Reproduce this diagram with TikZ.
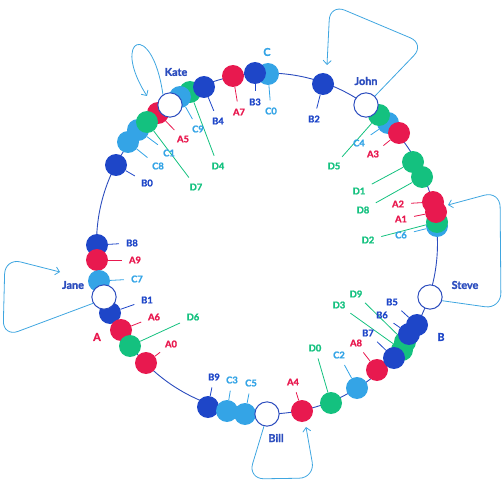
\documentclass[tikz,border=0pt]{standalone}
\usepackage{fontspec}
\setmainfont{Lato}[FakeBold=1.6]
\usetikzlibrary{arrows.meta}

\definecolor{hashred}{HTML}{E8194F}
\definecolor{hashblue}{HTML}{1E46C8}
\definecolor{hashsky}{HTML}{34A4E6}
\definecolor{hashgreen}{HTML}{14C17F}
\definecolor{ringblue}{HTML}{2C4DBE}
\definecolor{loopblue}{HTML}{3FA6E0}

\pgfdeclarelayer{bg}
\pgfsetlayers{bg,main}

\tikzset{
  vnode/.style={circle, inner sep=0pt, minimum size=0.77cm},
  avn/.style={vnode, fill=hashred},
  bvn/.style={vnode, fill=hashblue},
  cvn/.style={vnode, fill=hashsky},
  dvn/.style={vnode, fill=hashgreen},
  server/.style={circle, draw=ringblue, fill=white, line width=1pt, inner sep=0pt, minimum size=0.85cm},
  tag/.style={inner sep=1pt, font=\fontsize{9.3}{11}\selectfont\bfseries},
  srvname/.style={inner sep=1pt, font=\fontsize{10.8}{12}\selectfont\bfseries},
  ring/.style={draw=ringblue, line width=0.9pt},
  tick/.style={line width=0.8pt, shorten >=6pt},
  loopy/.style={draw=loopblue, line width=0.8pt, rounded corners=16pt, -{Straight Barb[length=4pt,width=8pt]}},
}

\begin{document}
\begin{tikzpicture}[x=0.035cm, y=-0.035cm]
  \useasboundingbox (0,0) rectangle (504,483);

  % left side, around Jane
  \node[bvn] (b8) at (97,245) {};
  \node[avn] (a9) at (97,260) {};
  \node[cvn] (c7) at (99,281) {};
  \node[bvn] (b1) at (110,313) {};
  \node[avn] (a6) at (121,330) {};
  \node[avn] (a0) at (146,363) {};
  \node[dvn] (d6) at (130,346) {};
  \node[server] (jane) at (104,297) {};

  % top left, around Kate
  \node[bvn] (b0) at (116,165) {};
  \node[cvn] (c8) at (128,142) {};
  \node[cvn] (c1) at (138,130) {};
  \node[avn] (a5) at (158,113) {};
  \node[dvn] (d7) at (147,122) {};
  \node[dvn] (d4) at (190,92) {};
  \node[cvn] (c9) at (180,97) {};
  \node[server] (kate) at (170,105) {};
  \node[bvn] (b4) at (204,87) {};
  \node[avn] (a7) at (233,76) {};
  \node[cvn] (c0) at (268,74) {};
  \node[bvn] (b3) at (255,73) {};

  % top right, around John
  \node[bvn] (b2) at (323,84) {};
  \node[cvn] (c4) at (388,123) {};
  \node[avn] (a3) at (399,133) {};
  \node[dvn] (d5) at (379,115) {};
  \node[server] (john) at (366,105) {};
  \node[dvn] (d1) at (413,162) {};
  \node[dvn] (d8) at (422,177) {};

  % right side, around Steve
  \node[cvn] (c6) at (437,226) {};
  \node[dvn] (d2) at (437,222) {};
  \node[avn] (a1) at (436,212) {};
  \node[avn] (a2) at (433,202) {};
  \node[server] (steve) at (430,297) {};

  % bottom right
  \node[cvn] (c2) at (357,388) {};
  \node[avn] (a8) at (377,370) {};
  \node[dvn] (d9) at (405,342) {};
  \node[dvn] (d3) at (402,350) {};
  \node[bvn] (b6) at (409,334) {};
  \node[bvn] (b5) at (417,325) {};
  \node[bvn] (b7) at (394,358) {};

  % bottom, around Bill
  \node[dvn] (d0) at (331,403) {};
  \node[avn] (a4) at (302,411) {};
  \node[bvn] (b9) at (208,407) {};
  \node[cvn] (c3) at (227,411) {};
  \node[cvn] (c5) at (245,414) {};
  \node[server] (bill) at (267,414) {};

  % server names
  \node[srvname, text=ringblue] (kate-l) at (176,72) {Kate};
  \node[srvname, text=ringblue] (john-l) at (366,81) {John};
  \node[srvname, text=ringblue] (steve-l) at (465,285) {Steve};
  \node[srvname, text=ringblue] (bill-l) at (276,438) {Bill};
  \node[srvname, text=ringblue] (jane-l) at (73,285) {Jane};
  \node[srvname, text=hashred] (grpa) at (97,337) {A};
  \node[srvname, text=hashblue] (grpb) at (441,337) {B};
  \node[srvname, text=hashsky] (grpc) at (267,52) {C};

  % labels A
  \node[tag, text=hashred] (la0) at (171,344) {A0};
  \node[tag, text=hashred] (la1) at (401,219) {A1};
  \node[tag, text=hashred] (la2) at (398,204) {A2};
  \node[tag, text=hashred] (la3) at (373,154) {A3};
  \node[tag, text=hashred] (la4) at (293,382) {A4};
  \node[tag, text=hashred] (la5) at (183,139) {A5};
  \node[tag, text=hashred] (la6) at (154,317) {A6};
  \node[tag, text=hashred] (la7) at (239,112) {A7};
  \node[tag, text=hashred] (la8) at (356,343) {A8};
  \node[tag, text=hashred] (la9) at (135,260) {A9};
  % labels B
  \node[tag, text=hashblue] (lb0) at (147,183) {B0};
  \node[tag, text=hashblue] (lb1) at (147,300) {B1};
  \node[tag, text=hashblue] (lb2) at (314,119) {B2};
  \node[tag, text=hashblue] (lb3) at (255,102) {B3};
  \node[tag, text=hashblue] (lb4) at (218,121) {B4};
  \node[tag, text=hashblue] (lb5) at (392,302) {B5};
  \node[tag, text=hashblue] (lb6) at (382,315) {B6};
  \node[tag, text=hashblue] (lb7) at (368,333) {B7};
  \node[tag, text=hashblue] (lb8) at (132,243) {B8};
  \node[tag, text=hashblue] (lb9) at (214,377) {B9};
  % labels C
  \node[tag, text=hashsky] (lc0) at (271,111) {C0};
  \node[tag, text=hashsky] (lc1) at (169,153) {C1};
  \node[tag, text=hashsky] (lc2) at (339,355) {C2};
  \node[tag, text=hashsky] (lc3) at (232,380) {C3};
  \node[tag, text=hashsky] (lc4) at (359,143) {C4};
  \node[tag, text=hashsky] (lc5) at (251,383) {C5};
  \node[tag, text=hashsky] (lc6) at (401,235) {C6};
  \node[tag, text=hashsky] (lc7) at (137,279) {C7};
  \node[tag, text=hashsky] (lc8) at (158,166) {C8};
  \node[tag, text=hashsky] (lc9) at (198,129) {C9};
  % labels D
  \node[tag, text=hashgreen] (ld0) at (315,348) {D0};
  \node[tag, text=hashgreen] (ld1) at (359,191) {D1};
  \node[tag, text=hashgreen] (ld2) at (368,240) {D2};
  \node[tag, text=hashgreen] (ld3) at (339,305) {D3};
  \node[tag, text=hashgreen] (ld4) at (218,166) {D4};
  \node[tag, text=hashgreen] (ld5) at (334,166) {D5};
  \node[tag, text=hashgreen] (ld6) at (193,317) {D6};
  \node[tag, text=hashgreen] (ld7) at (196,187) {D7};
  \node[tag, text=hashgreen] (ld8) at (363,210) {D8};
  \node[tag, text=hashgreen] (ld9) at (356,294) {D9};

  % ring and ticks, behind the dots
  \begin{pgfonlayer}{bg}
    \draw[ring] (267,243.5) circle[radius=5.9675cm];
    \foreach \i in {0,...,9}
      \draw[tick, hashred] (a\i) -- (la\i);
    \foreach \i in {0,...,9}
      \draw[tick, hashblue] (b\i) -- (lb\i);
    \foreach \i in {0,...,9}
      \draw[tick, hashsky] (c\i) -- (lc\i);
    \foreach \i in {0,...,9}
      \draw[tick, hashgreen] (d\i) -- (ld\i);
  \end{pgfonlayer}

  % loops
  \coordinate (kate-in) at (147,96);
  \coordinate (john-in) at (327,65);
  \coordinate (steve-in) at (448,205);
  \coordinate (bill-in) at (306,427);
  \coordinate (jane-in) at (60,272);
  \draw[loopy] (kate.124) .. controls (152,18) and (110,38) .. (kate-in);
  \draw[loopy] (john.45) -- (425,44) -- (330,4) -- (john-in);
  \draw[loopy] (steve.-17) -- (501,309) -- (500,191) -- (steve-in);
  \draw[loopy] (bill.-104) -- (248,479) -- (315,478) -- (bill-in);
  \draw[loopy] (jane.210) -- (3,337) -- (5,258) -- (jane-in);
\end{tikzpicture}
\end{document}
